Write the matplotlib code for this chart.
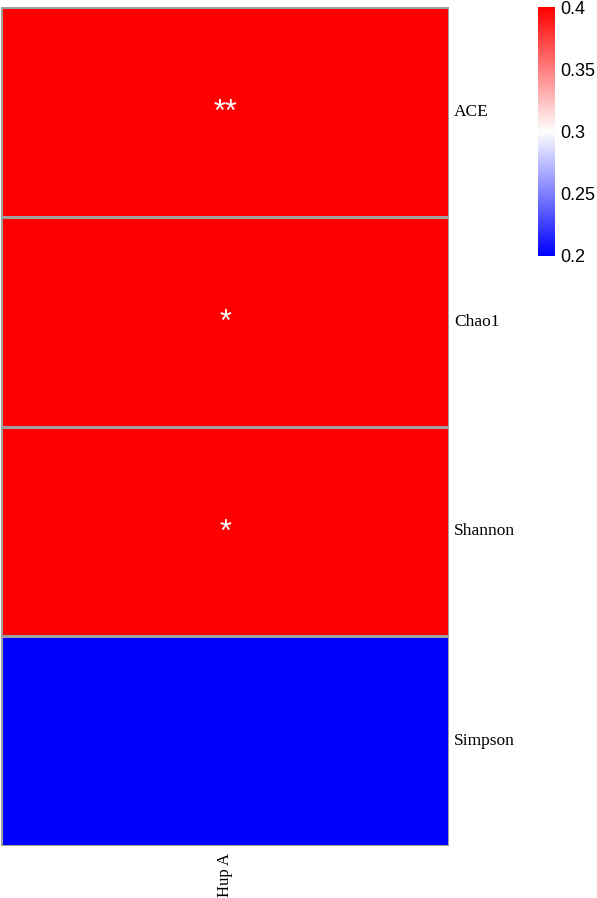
import numpy as np
import matplotlib
matplotlib.use("Agg")
import matplotlib.pyplot as plt
from matplotlib.colors import LinearSegmentedColormap, Normalize
from matplotlib.colorbar import ColorbarBase

rows = ["ACE", "Chao1", "Shannon", "Simpson"]
cols = ["Hup A"]
values = np.array([[0.45], [0.42], [0.41], [-0.15]])
stars = [["**"], ["*"], ["*"], [""]]
cbar_ticks = [0.2, 0.25, 0.3, 0.35, 0.4]

W, H = 597, 898
fig = plt.figure(figsize=(W / 100, H / 100), dpi=100)

cmap = LinearSegmentedColormap.from_list("bwr2", ["#0000FF", "#FFFFFF", "#FF0000"], N=100)
norm = Normalize(vmin=0.2, vmax=0.4)

# heatmap body
ax = fig.add_axes([1 / W, 1 - 846 / H, 448 / W, 839 / H])
ax.pcolormesh(np.clip(values, 0.2, 0.4), cmap=cmap, norm=norm,
              edgecolors="#A0A0A0", linewidth=2)
ax.set_xlim(0, len(cols))
ax.set_ylim(len(rows), 0)
for s in ax.spines.values():
    s.set_visible(False)
ax.set_xticks([])
ax.set_yticks([])

for i, r in enumerate(rows):
    ax.text(1.011, i + 0.5, r, ha="left", va="center", fontsize=12.5,
            family="Liberation Serif", clip_on=False)
    for j in range(len(cols)):
        if stars[i][j]:
            ax.text(j + 0.5, i + 0.505, stars[i][j], ha="center", va="center",
                    color="white", fontsize=22, family="Liberation Sans")

for j, c in enumerate(cols):
    ax.text(j + 0.5, len(rows) + 0.035, c, ha="center", va="top", rotation=90,
            fontsize=12, family="Liberation Serif", clip_on=False)

# legend colour bar
cax = fig.add_axes([538 / W, 1 - 256 / H, 17 / W, 249 / H])
cb = ColorbarBase(cax, cmap=cmap, norm=norm, ticks=cbar_ticks)
cb.outline.set_visible(False)
cax.tick_params(length=0, pad=4, labelsize=13)
cax.set_yticklabels([f"{t:g}" for t in cbar_ticks], family="Liberation Sans")

fig.savefig("out.png", dpi=100)
